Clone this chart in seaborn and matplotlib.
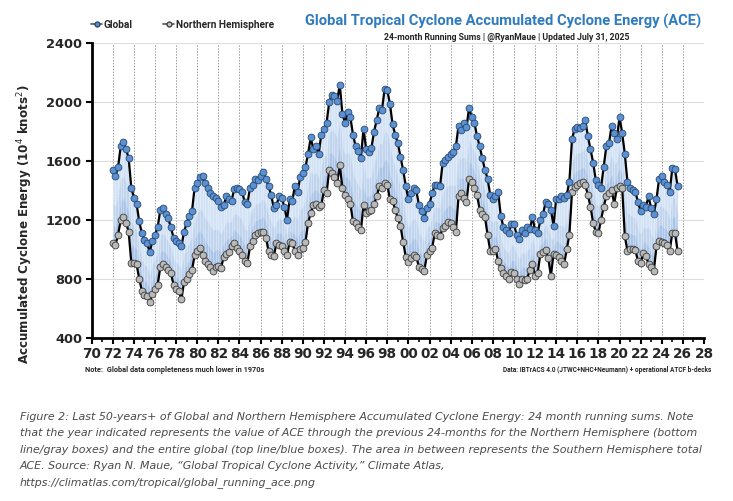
import numpy as np
import pandas as pd
import seaborn as sns
import matplotlib.pyplot as plt
from matplotlib.ticker import MultipleLocator, FixedLocator

# quarterly 24-month running sums of ACE (10^4 kt^2), starting 1972.0
global_ace = [
    1540, 1500, 1560, 1700, 1730, 1680, 1620, 1420, 1350, 1310, 1190, 1110,
    1065, 1040, 980, 1060, 1100, 1150, 1270, 1280, 1240, 1210, 1150, 1080,
    1060, 1040, 1020, 1120, 1180, 1230, 1260, 1420, 1450, 1490, 1500, 1450,
    1420, 1380, 1360, 1350, 1330, 1290, 1300, 1360, 1345, 1330, 1410, 1420,
    1410, 1390, 1320, 1310, 1420, 1440, 1480, 1470, 1500, 1525, 1480, 1430,
    1370, 1280, 1300, 1360, 1350, 1290, 1200, 1340, 1330, 1430, 1390, 1490,
    1520, 1560, 1650, 1760, 1680, 1700, 1650, 1780, 1820, 1860, 2000, 2050,
    2040, 2010, 2120, 1920, 1860, 1930, 1900, 1780, 1700, 1670, 1620, 1820,
    1680, 1660, 1690, 1800, 1880, 1960, 1950, 2090, 2080, 1990, 1850, 1780,
    1720, 1630, 1540, 1430, 1340, 1380, 1420, 1400, 1300, 1260, 1215, 1280,
    1310, 1380, 1440, 1440, 1430, 1590, 1610, 1630, 1650, 1660, 1700, 1840,
    1810, 1860, 1830, 1960, 1900, 1860, 1770, 1700, 1620, 1540, 1480, 1370,
    1340, 1360, 1390, 1230, 1150, 1130, 1110, 1175, 1170, 1100, 1070, 1130,
    1110, 1150, 1135, 1220, 1130, 1110, 1200, 1240, 1320, 1310, 1270, 1160,
    1345, 1340, 1360, 1350, 1370, 1460, 1750, 1820, 1830, 1825, 1840, 1880,
    1770, 1680, 1590, 1470, 1440, 1420, 1560, 1700, 1720, 1840, 1790, 1750,
    1900, 1790, 1650, 1460, 1420, 1400, 1390, 1320, 1260, 1300, 1290, 1360,
    1280, 1240, 1340, 1480, 1500, 1460, 1440, 1390, 1550, 1545, 1430,
]
nh_ace = [
    1040, 1030, 1100, 1200, 1220, 1180, 1120, 910, 905, 900, 800, 720,
    690, 680, 640, 700, 730, 760, 880, 900, 880, 860, 840, 760,
    730, 720, 660, 780, 800, 830, 860, 960, 990, 1010, 960, 920,
    900, 880, 850, 880, 890, 870, 950, 970, 980, 1020, 1040, 1010,
    990, 960, 920, 910, 1020, 1060, 1100, 1110, 1115, 1120, 1080, 990,
    960, 955, 1040, 1030, 1020, 990, 960, 1050, 1040, 990, 965, 1000,
    1010, 1050, 1180, 1250, 1300, 1310, 1290, 1300, 1400, 1380, 1540, 1520,
    1490, 1450, 1570, 1420, 1370, 1340, 1310, 1190, 1180, 1150, 1130, 1300,
    1250, 1260, 1270, 1310, 1360, 1430, 1420, 1450, 1440, 1340, 1330, 1270,
    1210, 1160, 1050, 950, 915, 940, 960, 950, 880, 865, 855, 960,
    990, 1010, 1110, 1100, 1090, 1145, 1160, 1185, 1180, 1150, 1120, 1360,
    1380, 1350, 1320, 1480, 1460, 1420, 1370, 1270, 1240, 1220, 1100, 990,
    990, 1005, 920, 870, 840, 820, 800, 845, 840, 800, 765, 800,
    795, 800, 860, 900, 820, 840, 970, 985, 995, 940, 820, 970,
    965, 950, 920, 900, 1000, 1100, 1390, 1425, 1440, 1450, 1460, 1440,
    1370, 1290, 1180, 1120, 1110, 1200, 1290, 1360, 1380, 1400, 1310, 1420,
    1430, 1420, 1090, 990, 1005, 1000, 995, 920, 905, 975, 955, 900,
    880, 855, 1020, 1060, 1050, 1040, 1030, 990, 1110, 1110, 990,
]
start_year = 1972.0
tick_years = list(range(1970, 2029, 2))
tick_labels = ['%02d' % (y % 100) for y in tick_years]
y_ticks = [400, 800, 1200, 1600, 2000, 2400]

df = pd.DataFrame({'global': global_ace, 'nh': nh_ace})
df['year'] = start_year + np.arange(len(df)) / 4.0

sns.set_theme(style='white')
plt.rcParams['font.family'] = ['DejaVu Sans']

fig = plt.figure(figsize=(7.33, 5.01), dpi=100)
ax = fig.add_axes([0.1251, 0.326, 0.8353, 0.5876])

# shaded band = southern hemisphere contribution
span = df['global'] - df['nh']
ax.fill_between(df['year'], df['nh'], df['global'], color='#d3e2f4', lw=0, zorder=1)
ax.fill_between(df['year'], df['nh'], df['nh'] + 0.55 * span, color='#a9c5e8', alpha=0.45, lw=0, zorder=1)
ax.fill_between(df['year'], df['nh'], df['nh'] + 0.25 * span, color='#8fb1dd', alpha=0.45, lw=0, zorder=1)
ax.vlines(df['year'], df['nh'], df['global'], color='#f2f7fc', lw=0.5, alpha=0.55, zorder=1.5)

sns.lineplot(data=df, x='year', y='nh', ax=ax, color='black', lw=1.6, marker='o',
             markersize=4.9, markerfacecolor='#b9b9b9', markeredgecolor='#3a3a3a',
             markeredgewidth=0.6, zorder=3)
sns.lineplot(data=df, x='year', y='global', ax=ax, color='black', lw=1.6, marker='o',
             markersize=4.9, markerfacecolor='#5b90d2', markeredgecolor='#27486f',
             markeredgewidth=0.6, zorder=4)

ax.set_xlim(1970, 2028)
ax.set_ylim(400, 2400)
ax.xaxis.set_major_locator(FixedLocator(tick_years))
ax.xaxis.set_minor_locator(MultipleLocator(1))
ax.set_xticklabels(tick_labels, fontsize=9.8, fontweight='bold')
ax.set_yticks(y_ticks)
ax.set_yticklabels([str(v) for v in y_ticks], fontsize=9.4, fontweight='bold')
ax.tick_params(axis='x', which='major', length=4, width=1.5, color='black', pad=3, bottom=True)
ax.tick_params(axis='x', which='minor', length=3, width=1.2, color='black', bottom=True)
ax.tick_params(axis='y', which='major', length=4, width=1.5, color='black', pad=3, left=True)

ax.grid(axis='y', color='#dddddd', lw=0.8, zorder=0)
for yr in tick_years[1:-1]:
    ax.axvline(yr, color='#9a9a9a', lw=0.7, ls=(0, (1.5, 1.5)), zorder=0.5)

for side in ['top', 'right']:
    ax.spines[side].set_visible(False)
for side in ['left', 'bottom']:
    ax.spines[side].set_color('black')
    ax.spines[side].set_linewidth(2)

ax.set_xlabel('')
ax.set_ylabel('Accumulated Cyclone Energy (10$^4$ knots$^2$)', fontsize=8.6,
              fontweight='semibold')
ax.yaxis.set_label_coords(-0.092, 0.384)

# legend at top-left
ax.plot([], [], color='#555555', lw=1.2, marker='o', markersize=3.5, markerfacecolor='#5b90d2',
        markeredgecolor='#27486f', label='Global')
ax.plot([], [], color='#555555', lw=1.2, marker='o', markersize=3.5, markerfacecolor='#c8c8c8',
        markeredgecolor='#444444', label='Northern Hemisphere')
h, l = ax.get_legend_handles_labels()
fig.legend(h[-2:], l[-2:], loc='center left', bbox_to_anchor=(0.112, 0.951), ncol=2,
           frameon=False, handlelength=1.1, handletextpad=0.15, columnspacing=3.0,
           prop={'family': 'Roboto', 'weight': 'bold', 'size': 7.3})

fig.text(0.956, 0.958, 'Global Tropical Cyclone Accumulated Cyclone Energy (ACE)',
         ha='right', va='center', color='#2f7bc0', fontsize=10.6, fontweight='bold',
         family='Roboto')
fig.text(0.859, 0.925, '24-month Running Sums | @RyanMaue | Updated July 31, 2025',
         ha='right', va='center', color='#222222', fontsize=6.2, fontweight='bold',
         family='Roboto')

fig.text(0.116, 0.262, 'Note:  Global data completeness much lower in 1970s',
         ha='left', va='center', fontsize=5.3, fontweight='bold', family='Roboto')
fig.text(0.971, 0.262, 'Data: IBTrACS 4.0 (JTWC+NHC+Neumann) + operational ATCF b-decks',
         ha='right', va='center', fontsize=4.7, fontweight='bold', family='Roboto')

caption = [
    'Figure 2: Last 50-years+ of Global and Northern Hemisphere Accumulated Cyclone Energy: 24 month running sums. Note',
    'that the year indicated represents the value of ACE through the previous 24-months for the Northern Hemisphere (bottom',
    'line/gray boxes) and the entire global (top line/blue boxes). The area in between represents the Southern Hemisphere total',
    'ACE. Source: Ryan N. Maue, \u201cGlobal Tropical Cyclone Activity,\u201d Climate Atlas,',
    'https://climatlas.com/tropical/global_running_ace.png',
]
for i, line in enumerate(caption):
    fig.text(20 / 733, 1 - (416.7 + 16.5 * i) / 501, line, ha='left', va='center',
             fontsize=7.9, style='italic', color='#4a4a4a')

plt.savefig('out.png', dpi=100)
